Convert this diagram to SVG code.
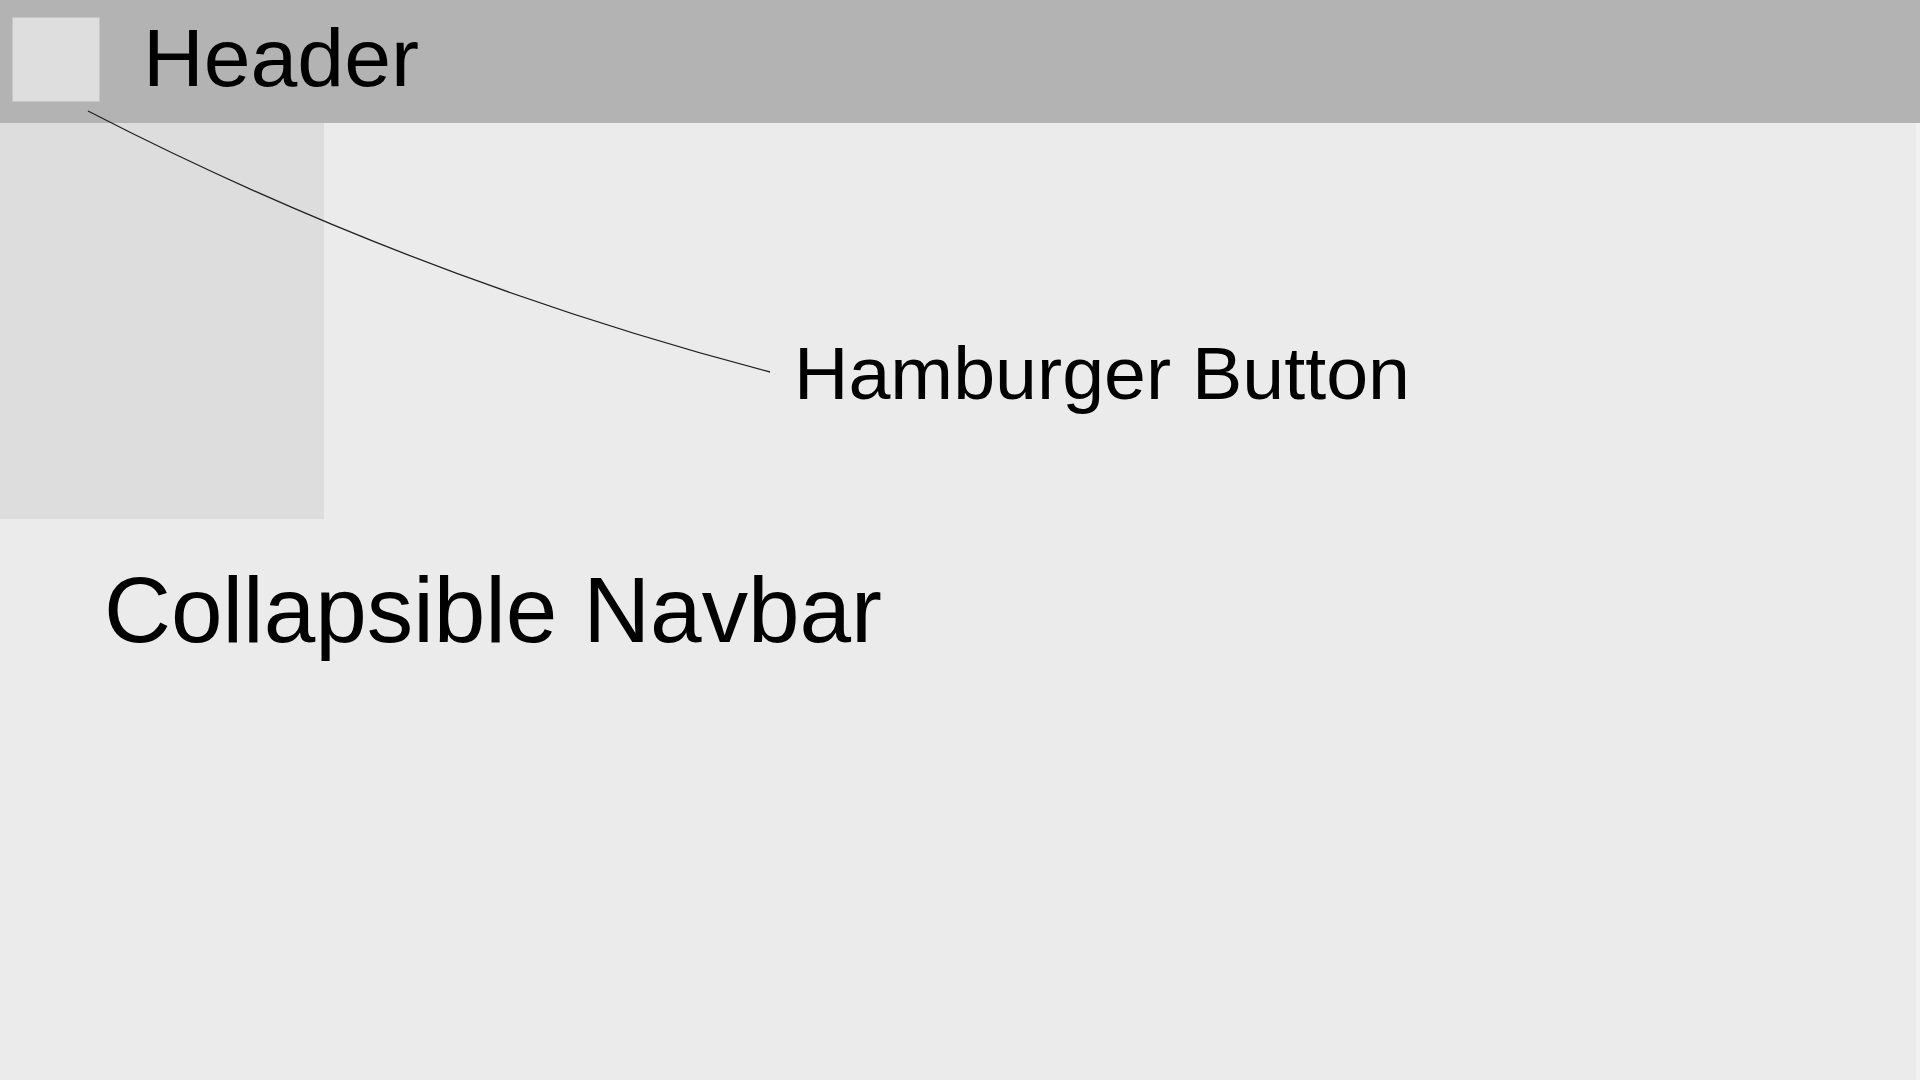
<svg xmlns="http://www.w3.org/2000/svg" width="1920" height="1080" viewBox="0 0 1920 1080">
  <style>
    .lbl { font-family: "Liberation Sans", Arial, sans-serif; fill: #000000; }
    .conn { fill: none; stroke: #222222; stroke-width: 1.3; }
  </style>
  <rect x="0" y="0" width="1920" height="1080" fill="#f2f2f2"/>
  <g id="main">
    <rect x="0" y="123" width="1916" height="957" fill="#ebebeb"/>
  </g>
  <g id="header">
    <rect x="0" y="0" width="1920" height="123" fill="#b3b3b3"/>
    <text class="lbl" x="143" y="86" font-size="81" textLength="276" lengthAdjust="spacingAndGlyphs">Header</text>
  </g>
  <g id="hamburger-button">
    <rect x="12.5" y="17.5" width="87" height="84" fill="#dedede" stroke="#c6c6c6" stroke-width="1"/>
  </g>
  <g id="collapsible-navbar">
    <rect x="0" y="123" width="324" height="396" fill="#dddddd"/>
    <text class="lbl" x="104" y="642" font-size="92" textLength="778" lengthAdjust="spacingAndGlyphs">Collapsible Navbar</text>
  </g>
  <g id="hamburger-label">
    <text class="lbl" x="794" y="399" font-size="75" textLength="616" lengthAdjust="spacingAndGlyphs">Hamburger Button</text>
  </g>
  <g id="connectors">
    <path class="conn" d="M88,111 Q412,278 770,372"/>
  </g>
</svg>
